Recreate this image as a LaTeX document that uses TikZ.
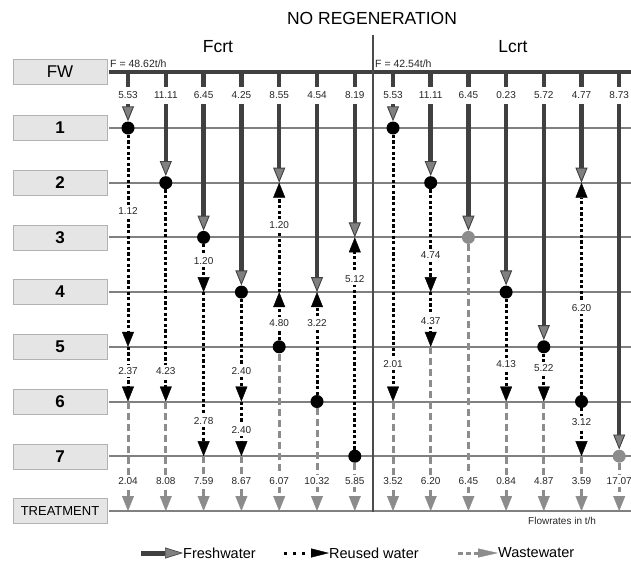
\documentclass[tikz,border=0pt]{standalone}
\usepackage{fontspec}
\setmainfont{Liberation Sans}
\usetikzlibrary{arrows.meta, positioning, calc}

\begin{document}
\begin{tikzpicture}[
  x=1pt, y=-1pt,
  every node/.style={font=\fontsize{10}{12}\selectfont, text=black!85},
  rowbox/.style={rectangle, draw=black!30, fill=black!10, minimum width=94pt,
                 minimum height=25pt, inner sep=0pt, text=black,
                 font=\fontsize{17}{20}\selectfont\bfseries},
  rowline/.style={draw=black!50, line width=2pt},
  fwline/.style={draw=black!75, line width=4.5pt},
  divider/.style={draw=black!70, line width=1.2pt},
  dot/.style={circle, fill=black, minimum size=13pt, inner sep=0pt},
  gdot/.style={dot, fill=black!45},
  lbl/.style={fill=white, inner sep=2pt, text height=7.5pt, text depth=1pt},
  toplbl/.style={lbl, minimum height=17pt},
  fresh/.style={draw=black!75, line width=4.5pt,
                -{Triangle[length=15pt, width=12pt, line width=0.9pt,
                           fill=black!50, color=black!75]}},
  reuse/.style={draw=black, line width=3pt, dash pattern=on 3.2pt off 2.4pt,
                -{Triangle[length=15pt, width=12pt, line width=0.4pt]}},
  waste/.style={draw=black!45, line width=3pt, dash pattern=on 7pt off 4pt,
                -{Triangle[length=15pt, width=12pt, line width=0.4pt]}},
  legtext/.style={anchor=west, inner sep=0pt, text=black,
                  font=\fontsize{14.5}{17}\selectfont},
]
\useasboundingbox (0,0) rectangle (631,565);

% titles
\node[font=\fontsize{17.5}{20}\selectfont, text=black] (title) at (372,18) {NO REGENERATION};
\node[font=\fontsize{17.5}{20}\selectfont, text=black] (fcrt) at (218,47) {Fcrt};
\node[font=\fontsize{17.5}{20}\selectfont, text=black] (lcrt) at (513,47) {Lcrt};
\node[anchor=west, inner sep=0pt, font=\fontsize{10.5}{12}\selectfont] (ff) at (110,64) {F = 48.62t/h};
\node[anchor=west, inner sep=0pt, font=\fontsize{10.5}{12}\selectfont] (fl) at (375,64) {F = 42.54t/h};

% rows and columns
\coordinate (e) at (631,0);
\node[rowbox, font=\fontsize{17}{20}\selectfont] (b0) at (60,72) {FW};
\coordinate (r0) at (109,72);
\foreach \r/\y in {1/128, 2/182.7, 3/237.4, 4/292.1, 5/346.8, 6/401.5, 7/456.2}
{
  \node[rowbox] (b\r) at (60,\y) {\r};
  \coordinate (r\r) at (109,\y);
}
\node[rowbox, font=\fontsize{13}{15}\selectfont] (b8) at (60,511) {TREATMENT};
\coordinate (r8) at (109,511);
\foreach \i in {1,...,7}
  \coordinate (c\i) at ({128+(\i-1)*37.8},0);
\foreach \i in {8,...,14}
  \coordinate (c\i) at ({393+(\i-8)*37.7},0);

\foreach \r in {1,...,8}
  \draw[rowline] (r\r) -- (r\r -| e);
\draw[fwline] (r0) -- (r0 -| e);
\coordinate (dtop) at (373,35);
\coordinate (dbot) at (373,512);
\draw[divider] (dtop) -- (dbot);

% processes
\foreach \i/\r in {1/1, 2/2, 3/3, 4/4, 5/5, 6/6, 7/7, 8/1, 9/2, 11/4, 12/5, 13/6}
  \node[dot] (d\i) at (c\i |- r\r) {};
\node[gdot] (d10) at (c10 |- r3) {};
\node[gdot] (d14) at (c14 |- r7) {};

% Fcrt
\draw[fresh] (c1 |- r0) -- (d1);
\draw[reuse] (d1) -- (c1 |- r5);
\draw[reuse] (c1 |- r5) -- (c1 |- r6);
\draw[waste] (c1 |- r6) -- (c1 |- r8);

\draw[fresh] (c2 |- r0) -- (d2);
\draw[reuse] (d2) -- (c2 |- r6);
\draw[waste] (c2 |- r6) -- (c2 |- r8);

\draw[fresh] (c3 |- r0) -- (d3);
\draw[reuse] (d3) -- (c3 |- r4);
\draw[reuse] (c3 |- r4) -- (c3 |- r7);
\draw[waste] (c3 |- r7) -- (c3 |- r8);

\draw[fresh] (c4 |- r0) -- (d4);
\draw[reuse] (d4) -- (c4 |- r6);
\draw[reuse] (c4 |- r6) -- (c4 |- r7);
\draw[waste] (c4 |- r7) -- (c4 |- r8);

\draw[fresh] (c5 |- r0) -- (c5 |- r2);
\draw[reuse] (d5) -- (c5 |- r4);
\draw[reuse] (c5 |- r4) -- (c5 |- r2);
\draw[waste] (d5) -- (c5 |- r8);

\draw[fresh] (c6 |- r0) -- (c6 |- r4);
\draw[reuse] (d6) -- (c6 |- r4);
\draw[waste] (d6) -- (c6 |- r8);

\draw[fresh] (c7 |- r0) -- (c7 |- r3);
\draw[reuse] (d7) -- (c7 |- r3);
\draw[waste] (d7) -- (c7 |- r8);

% Lcrt
\draw[fresh] (c8 |- r0) -- (d8);
\draw[reuse] (d8) -- (c8 |- r6);
\draw[waste] (c8 |- r6) -- (c8 |- r8);

\draw[fresh] (c9 |- r0) -- (d9);
\draw[reuse] (d9) -- (c9 |- r4);
\draw[reuse] (c9 |- r4) -- (c9 |- r5);
\draw[waste] (c9 |- r5) -- (c9 |- r8);

\draw[fresh] (c10 |- r0) -- (d10);
\draw[waste] (d10) -- (c10 |- r8);

\draw[fresh] (c11 |- r0) -- (d11);
\draw[reuse] (d11) -- (c11 |- r6);
\draw[waste] (c11 |- r6) -- (c11 |- r8);

\draw[fresh] (c12 |- r0) -- (d12);
\draw[reuse] (d12) -- (c12 |- r6);
\draw[waste] (c12 |- r6) -- (c12 |- r8);

\draw[fresh] (c13 |- r0) -- (c13 |- r2);
\draw[reuse] (d13) -- (c13 |- r2);
\draw[reuse] (d13) -- (c13 |- r7);
\draw[waste] (c13 |- r7) -- (c13 |- r8);

\draw[fresh] (c14 |- r0) -- (d14);
\draw[waste] (d14) -- (c14 |- r8);

% flowrates
\foreach \v [count=\i] in {5.53,11.11,6.45,4.25,8.55,4.54,8.19,5.53,11.11,6.45,0.23,5.72,4.77,8.73}
  \node[toplbl] (top\i) at (c\i |- 0,95) {\v};
\foreach \v [count=\i] in {2.04,8.08,7.59,8.67,6.07,10.32,5.85,3.52,6.20,6.45,0.84,4.87,3.59,17.07}
  \node[lbl] (bot\i) at (c\i |- 0,481) {\v};
\node[lbl] (m1a) at (c1 |- 0,211) {1.12};
\node[lbl] (m1b) at (c1 |- 0,371) {2.37};
\node[lbl] (m2a) at (c2 |- 0,371) {4.23};
\node[lbl] (m3a) at (c3 |- 0,261) {1.20};
\node[lbl] (m3b) at (c3 |- 0,421) {2.78};
\node[lbl] (m4a) at (c4 |- 0,371) {2.40};
\node[lbl] (m4b) at (c4 |- 0,430) {2.40};
\node[lbl] (m5a) at (c5 |- 0,225) {1.20};
\node[lbl] (m5b) at (c5 |- 0,323) {4.80};
\node[lbl] (m6a) at (c6 |- 0,323) {3.22};
\node[lbl] (m7a) at (c7 |- 0,279) {5.12};
\node[lbl] (m8a) at (c8 |- 0,364) {2.01};
\node[lbl] (m9a) at (c9 |- 0,255) {4.74};
\node[lbl] (m9b) at (c9 |- 0,321) {4.37};
\node[lbl] (m11a) at (c11 |- 0,364) {4.13};
\node[lbl] (m12a) at (c12 |- 0,368) {5.22};
\node[lbl] (m13a) at (c13 |- 0,308) {6.20};
\node[lbl] (m13b) at (c13 |- 0,422) {3.12};

\node[anchor=west, inner sep=0pt, font=\fontsize{10}{12}\selectfont] (units) at (528,521) {Flowrates in t/h};

% legend
\node[legtext] (lgfresh) at (183,553) {Freshwater};
\node[legtext] (lgreuse) at (329,553) {Reused water};
\node[legtext] (lgwaste) at (498,553) {Wastewater};
\coordinate (lgf) at (141,553);
\coordinate (lgr) at (284,553);
\coordinate (lgw) at (458,553);
\draw[draw=black!75, line width=5pt,
      -{Triangle[length=18pt, width=11pt, line width=0.6pt, fill=black!50, color=black!75]}]
  (lgf) -- (lgfresh.west);
\draw[draw=black, line width=3pt, dash pattern=on 3pt off 6pt,
      -{Triangle[length=18pt, width=9pt, line width=0.4pt]}]
  (lgr) -- (lgreuse.west);
\draw[draw=black!45, line width=3pt, dash pattern=on 5pt off 3pt,
      -{Triangle[length=20pt, width=9pt, line width=0.4pt]}]
  (lgw) -- (lgwaste.west);
\end{tikzpicture}
\end{document}
